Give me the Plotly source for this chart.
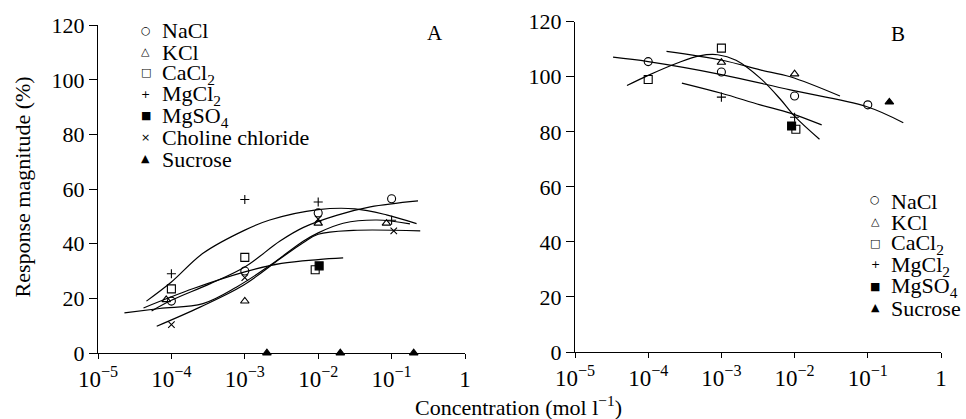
import plotly.graph_objects as go

W, H = 966, 419
FONT = "Liberation Serif, Times New Roman, serif"

# ---------------- Panel A data (concentration mol/l, response %) ----------------
A_nacl_x = [1e-4, 1e-3, 1e-2, 1e-1]
A_nacl_y = [19, 30, 51.3, 56.5]
A_kcl_x = [0.85e-4, 1e-3, 1e-2, 0.085]
A_kcl_y = [19.5, 19, 47.5, 47.5]
A_cacl2_x = [1e-4, 1e-3, 0.0091]
A_cacl2_y = [23.5, 35, 30.5]
A_mgcl2_x = [1e-4, 1e-3, 1e-2, 1e-1]
A_mgcl2_y = [29, 56.2, 55.3, 48.6]
A_mgso4_x = [0.0103]
A_mgso4_y = [31.9]
A_chol_x = [1e-4, 1e-3, 1e-2, 0.107]
A_chol_y = [10.4, 27.6, 49, 44.7]
A_suc_x = [0.002, 0.02, 0.2]
A_suc_y = [0, 0, 0]

# fitted curves, panel A (log10 concentration, response %)
A_fit_mgcl2_lc = [-4.34, -4.0, -3.57, -3.0, -2.66, -2.0, -1.5, -1.07, -0.66]
A_fit_mgcl2_v = [19, 26, 36.5, 45, 48.7, 52.5, 52.8, 50.6, 47.4]
A_fit_nacl_lc = [-4.27, -4.0, -3.47, -3.0, -2.52, -2.2, -1.75, -1.29, -0.64]
A_fit_nacl_v = [15.4, 19.3, 25.4, 31.5, 41, 46, 50.4, 53.5, 55.7]
A_fit_kcl_lc = [-4.64, -4.16, -3.57, -3.11, -2.66, -2.2, -2.0, -1.66, -1.2, -0.75]
A_fit_kcl_v = [14.7, 16.3, 18.1, 24.2, 32, 41, 44, 47.5, 48.7, 47.3]
A_fit_chol_lc = [-4.2, -3.61, -3.02, -2.52, -2.2, -2.0, -1.52, -0.61]
A_fit_chol_v = [9.8, 16.8, 24.8, 34.5, 40.5, 43.5, 44.9, 44.7]
A_fit_cacl2_lc = [-4.38, -3.7, -3.0, -2.5, -2.0, -1.66]
A_fit_cacl2_v = [16.5, 23.6, 29.7, 32.8, 34.2, 34.8]

# ---------------- Panel B data ----------------
B_nacl_x = [1e-4, 1e-3, 1e-2, 1e-1]
B_nacl_y = [105.5, 101.7, 93, 89.8]
B_kcl_x = [1e-3, 1e-2]
B_kcl_y = [105.2, 101]
B_cacl2_x = [1e-4, 1e-3, 0.0104]
B_cacl2_y = [99, 110.4, 80.9]
B_mgcl2_x = [1e-3, 1e-2]
B_mgcl2_y = [92.6, 85.3]
B_mgso4_x = [0.0091]
B_mgso4_y = [82.1]
B_suc_x = [0.197]
B_suc_y = [90.8]

B_fit_nacl_lc = [-4.48, -4.0, -3.0, -2.06, -1.02, -0.515]
B_fit_nacl_v = [107.1, 105.5, 100.8, 95.2, 89.2, 83.3]
B_fit_kcl_lc = [-3.75, -2.99, -2.47, -2.06, -1.38]
B_fit_kcl_v = [109.2, 106, 102.5, 100, 93]
B_fit_cacl2_lc = [-4.29, -4.0, -3.6, -3.3, -3.05, -2.8, -2.47, -2.2, -1.995, -1.66]
B_fit_cacl2_v = [96.8, 100.5, 105, 107.6, 108, 106, 99.5, 92, 85.5, 77.3]
B_fit_mgcl2_lc = [-3.54, -3.0, -2.47, -2.06, -1.63]
B_fit_mgcl2_v = [97.7, 94, 89.8, 86.8, 82.5]

# ---------------- axis ticks ----------------
x_tickvals = [1e-5, 1e-4, 1e-3, 1e-2, 1e-1, 1]
x_ticktext = ["10<sup>\u22125</sup>", "10<sup>\u22124</sup>", "10<sup>\u22123</sup>",
              "10<sup>\u22122</sup>", "10<sup>\u22121</sup>", "1"]
y_tickvals = [0, 20, 40, 60, 80, 100, 120]

legendA_symbols = ["\u25CB", "\u25B3", "\u25A1", "+", "\u25A0", "\u00D7", "\u25B2"]
legendA_labels = ["NaCl", "KCl", "CaCl<sub>2</sub>", "MgCl<sub>2</sub>", "MgSO<sub>4</sub>",
                  "Choline chloride", "Sucrose"]
legendB_symbols = ["\u25CB", "\u25B3", "\u25A1", "+", "\u25A0", "\u25B2"]
legendB_labels = ["NaCl", "KCl", "CaCl<sub>2</sub>", "MgCl<sub>2</sub>", "MgSO<sub>4</sub>", "Sucrose"]

fig = go.Figure()


def add_points(x, y, symbol, size, xa, ya):
    fig.add_trace(go.Scatter(
        x=x, y=y, mode="markers", xaxis=xa, yaxis=ya, cliponaxis=False,
        marker=dict(symbol=symbol, size=size, color="black",
                    line=dict(color="black", width=1.1)),
        showlegend=False, hoverinfo="skip"))


def add_curve(lc, v, xa, ya):
    fig.add_trace(go.Scatter(
        x=[10 ** e for e in lc], y=v, mode="lines", xaxis=xa, yaxis=ya,
        line=dict(color="black", width=1.2, shape="spline", smoothing=1.0),
        showlegend=False, hoverinfo="skip"))


# Panel A
for lc, v in [(A_fit_mgcl2_lc, A_fit_mgcl2_v), (A_fit_nacl_lc, A_fit_nacl_v),
              (A_fit_kcl_lc, A_fit_kcl_v), (A_fit_chol_lc, A_fit_chol_v),
              (A_fit_cacl2_lc, A_fit_cacl2_v)]:
    add_curve(lc, v, "x", "y")
add_points(A_mgso4_x, A_mgso4_y, "square", 8, "x", "y")
add_points(A_nacl_x, A_nacl_y, "circle-open", 8, "x", "y")
add_points(A_kcl_x, A_kcl_y, "triangle-up-open", 7.5, "x", "y")
add_points(A_cacl2_x, A_cacl2_y, "square-open", 8, "x", "y")
add_points(A_mgcl2_x, A_mgcl2_y, "cross-thin-open", 6.5, "x", "y")
add_points(A_chol_x, A_chol_y, "x-thin-open", 6.5, "x", "y")
add_points(A_suc_x, A_suc_y, "triangle-up", 7.5, "x", "y")

# Panel B
for lc, v in [(B_fit_nacl_lc, B_fit_nacl_v), (B_fit_kcl_lc, B_fit_kcl_v),
              (B_fit_cacl2_lc, B_fit_cacl2_v), (B_fit_mgcl2_lc, B_fit_mgcl2_v)]:
    add_curve(lc, v, "x2", "y2")
add_points(B_mgso4_x, B_mgso4_y, "square", 8, "x2", "y2")
add_points(B_nacl_x, B_nacl_y, "circle-open", 8, "x2", "y2")
add_points(B_kcl_x, B_kcl_y, "triangle-up-open", 7.5, "x2", "y2")
add_points(B_cacl2_x, B_cacl2_y, "square-open", 8, "x2", "y2")
add_points(B_mgcl2_x, B_mgcl2_y, "cross-thin-open", 6.5, "x2", "y2")
add_points(B_suc_x, B_suc_y, "triangle-up", 7.5, "x2", "y2")

axis_common = dict(showgrid=False, zeroline=False, showline=True, linecolor="black",
                   linewidth=1.3, ticks="outside", tickcolor="black", tickwidth=1.3,
                   automargin=False)

xA = dict(axis_common, type="log", range=[-5, 0], domain=[98 / W, 465 / W],
          tickvals=x_tickvals, ticktext=x_ticktext, ticklen=5,
          tickfont=dict(family=FONT, size=23, color="black"))
xB = dict(xA, domain=[575 / W, 941 / W])
yA = dict(axis_common, range=[0, 120], domain=[1 - 353 / H, 1 - 25.3 / H],
          tickvals=y_tickvals, ticklen=8,
          tickfont=dict(family=FONT, size=22, color="black"))
yB = dict(yA, domain=[1 - 352 / H, 1 - 21.7 / H])

fig.update_layout(
    template="none",
    width=W, height=H, margin=dict(l=0, r=0, t=0, b=0, pad=0),
    paper_bgcolor="white", plot_bgcolor="white", showlegend=False,
    font=dict(family=FONT, color="black"),
    xaxis=dict(xA, anchor="y"), yaxis=dict(yA, anchor="x"),
    xaxis2=dict(xB, anchor="y2"), yaxis2=dict(yB, anchor="x2"),
)

ann = []
# axis titles
ann.append(dict(text="Response magnitude (%)", x=21.5 / W, y=1 - 187 / H, xref="paper", yref="paper",
                textangle=-90, showarrow=False, xanchor="center", yanchor="middle",
                font=dict(family=FONT, size=22, color="black")))
ann.append(dict(text="Concentration (mol l<sup>\u22121</sup>)", x=518 / W, y=1 - 406 / H,
                xref="paper", yref="paper", showarrow=False, xanchor="center", yanchor="middle",
                font=dict(family=FONT, size=22, color="black")))
# panel letters
ann.append(dict(text="A", x=435 / W, y=1 - 33 / H, xref="paper", yref="paper", showarrow=False,
                xanchor="center", yanchor="middle", font=dict(family=FONT, size=21, color="black")))
ann.append(dict(text="B", x=898 / W, y=1 - 34 / H, xref="paper", yref="paper", showarrow=False,
                xanchor="center", yanchor="middle", font=dict(family=FONT, size=21, color="black")))


def add_legend(symbols, labels, sym_x, txt_x, y0, step):
    for i, (s, lab) in enumerate(zip(symbols, labels)):
        yy = y0 + i * step
        ann.append(dict(text=s, x=sym_x / W, y=1 - yy / H, xref="paper", yref="paper",
                        showarrow=False, xanchor="center", yanchor="middle", borderpad=0,
                        font=dict(family="DejaVu Sans", size=11, color="black")))
        ann.append(dict(text=lab, x=txt_x / W, y=1 - (yy + 1) / H, xref="paper", yref="paper",
                        showarrow=False, xanchor="left", yanchor="middle", borderpad=0,
                        font=dict(family=FONT, size=22, color="black")))


add_legend(legendA_symbols, legendA_labels, 145.5, 161, 30, 21.4)
add_legend(legendB_symbols, legendB_labels, 875, 890, 200, 21.5)

fig.update_layout(annotations=ann)
fig.write_html("out.html")
